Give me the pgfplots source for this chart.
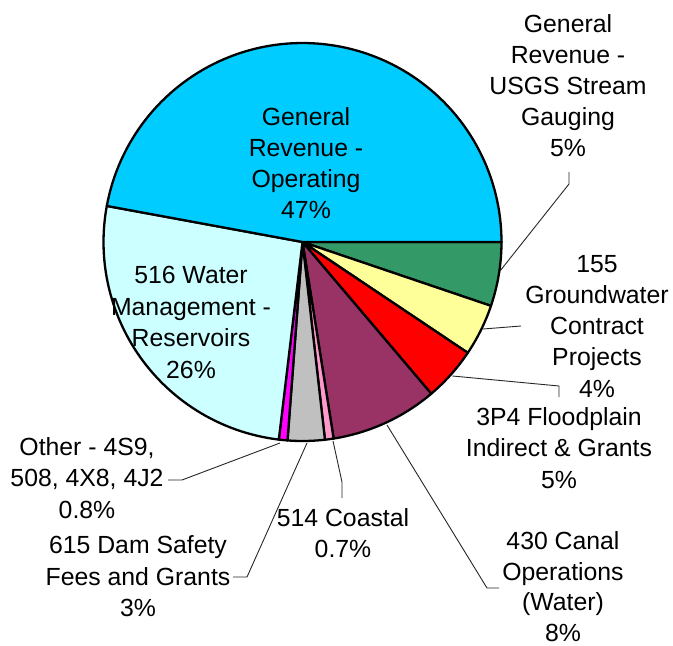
\documentclass[border=0pt]{standalone}
\usepackage{pgfplots}
\usepackage{pgfplotstable}
\pgfplotsset{compat=1.18}
\usepackage{fontspec}
\setmainfont{Liberation Sans}

\definecolor{cCyan}{HTML}{00CCFF}
\definecolor{cLCyan}{HTML}{CCFFFF}
\definecolor{cGreen}{HTML}{339966}
\definecolor{cYellow}{HTML}{FFFF99}
\definecolor{cRed}{HTML}{FF0000}
\definecolor{cPurple}{HTML}{993366}
\definecolor{cPink}{HTML}{FF99CC}
\definecolor{cGray}{HTML}{C0C0C0}
\definecolor{cMagenta}{HTML}{FF00FF}

\tikzset{
  lbl/.style={anchor=base, inner sep=0pt, font=\fontsize{24.8}{30}\selectfont},
  ldr/.style={draw=black!85, line width=0.9pt}}

% shares in percent, clockwise from 3 o'clock
\pgfplotstableread{
name v
USGS 5.2
Groundwater 4.2
Floodplain 4.4
Canal 8.7
Coastal 0.7
DamSafety 3.0
Other 0.7
Reservoirs 26.0
Operating 47.1
}\piedata

\def\cumv{0}
\newcommand\getangle[2]{%
  \pgfplotstablegetelem{#1}{v}\of\piedata
  \pgfmathsetmacro\cumv{\cumv+\pgfplotsretval*3.6}%
  \global\let#2\cumv}
\getangle{0}\aA
\getangle{1}\aB
\getangle{2}\aC
\getangle{3}\aD
\getangle{4}\aE
\getangle{5}\aF
\getangle{6}\aG
\getangle{7}\aH
\getangle{8}\aI

\def\cx{302.5}
\def\cy{242}
\def\rr{199}

\begin{document}
\begin{tikzpicture}
\useasboundingbox (0,0) rectangle (673pt,646pt);
\begin{axis}[at={(0,0)}, anchor=south west, scale only axis,
  width=673pt, height=646pt, xmin=0, xmax=673, ymin=0, ymax=646,
  y dir=reverse, hide axis, clip=false,
  every axis plot/.append style={draw=black, line width=2.3pt, line join=round, mark=none, variable=\t}]
\addplot[fill=cGreen, domain=0:\aA, samples=20] ({\cx+\rr*cos(\t)},{\cy+\rr*sin(\t)}) -- (axis cs:\cx,\cy) -- cycle;
\addplot[fill=cYellow, domain=\aA:\aB, samples=20] ({\cx+\rr*cos(\t)},{\cy+\rr*sin(\t)}) -- (axis cs:\cx,\cy) -- cycle;
\addplot[fill=cRed, domain=\aB:\aC, samples=20] ({\cx+\rr*cos(\t)},{\cy+\rr*sin(\t)}) -- (axis cs:\cx,\cy) -- cycle;
\addplot[fill=cPurple, domain=\aC:\aD, samples=30] ({\cx+\rr*cos(\t)},{\cy+\rr*sin(\t)}) -- (axis cs:\cx,\cy) -- cycle;
\addplot[fill=cPink, domain=\aD:\aE, samples=5] ({\cx+\rr*cos(\t)},{\cy+\rr*sin(\t)}) -- (axis cs:\cx,\cy) -- cycle;
\addplot[fill=cGray, domain=\aE:\aF, samples=10] ({\cx+\rr*cos(\t)},{\cy+\rr*sin(\t)}) -- (axis cs:\cx,\cy) -- cycle;
\addplot[fill=cMagenta, domain=\aF:\aG, samples=5] ({\cx+\rr*cos(\t)},{\cy+\rr*sin(\t)}) -- (axis cs:\cx,\cy) -- cycle;
\addplot[fill=cLCyan, domain=\aG:\aH, samples=60] ({\cx+\rr*cos(\t)},{\cy+\rr*sin(\t)}) -- (axis cs:\cx,\cy) -- cycle;
\addplot[fill=cCyan, domain=\aH:\aI, samples=100] ({\cx+\rr*cos(\t)},{\cy+\rr*sin(\t)}) -- (axis cs:\cx,\cy) -- cycle;

% leader lines
\draw[ldr] (axis cs:569,172) -- (axis cs:569,184) -- (axis cs:500,271);
\draw[ldr] (axis cs:483,329) -- (axis cs:521,326);
\draw[ldr] (axis cs:452.5,376) -- (axis cs:559,386) -- (axis cs:559,397);
\draw[ldr] (axis cs:387,425) -- (axis cs:487,588) -- (axis cs:499,588);
\draw[ldr] (axis cs:333,441) -- (axis cs:342,482) -- (axis cs:342,498);
\draw[ldr] (axis cs:168,480) -- (axis cs:182,480) -- (axis cs:280,443);
\draw[ldr] (axis cs:233,577) -- (axis cs:247,577) -- (axis cs:307,443);

% labels
\node[lbl] at (axis cs:306,125) {General};
\node[lbl] at (axis cs:306,156) {Revenue -};
\node[lbl] at (axis cs:306,187) {Operating};
\node[lbl] at (axis cs:306,218) {47\%};

\node[lbl] at (axis cs:568,32) {General};
\node[lbl] at (axis cs:568,63.2) {Revenue -};
\node[lbl] at (axis cs:568,94.4) {USGS Stream};
\node[lbl] at (axis cs:568,125.6) {Gauging};
\node[lbl] at (axis cs:568,156.8) {5\%};

\node[lbl] at (axis cs:597,272.3) {155};
\node[lbl] at (axis cs:597,303.5) {Groundwater};
\node[lbl] at (axis cs:597,334.7) {Contract};
\node[lbl] at (axis cs:597,365.9) {Projects};
\node[lbl] at (axis cs:597,397) {4\%};

\node[lbl] at (axis cs:559,425) {3P4 Floodplain};
\node[lbl] at (axis cs:559,456.7) {Indirect \& Grants};
\node[lbl] at (axis cs:559,488.3) {5\%};

\node[lbl] at (axis cs:563,549) {430 Canal};
\node[lbl] at (axis cs:563,580) {Operations};
\node[lbl] at (axis cs:563,610.8) {(Water)};
\node[lbl] at (axis cs:563,641.7) {8\%};

\node[lbl] at (axis cs:343,526) {514 Coastal};
\node[lbl] at (axis cs:343,557.3) {0.7\%};

\node[lbl] at (axis cs:87,455) {Other - 4S9,};
\node[lbl] at (axis cs:87,486.7) {508, 4X8, 4J2};
\node[lbl] at (axis cs:87,518.3) {0.8\%};

\node[lbl] at (axis cs:138,553.3) {615 Dam Safety};
\node[lbl] at (axis cs:138,585) {Fees and Grants};
\node[lbl] at (axis cs:138,616.7) {3\%};

\node[lbl] at (axis cs:191,283.5) {516 Water};
\node[lbl] at (axis cs:191,315) {Management -};
\node[lbl] at (axis cs:191,346.5) {Reservoirs};
\node[lbl] at (axis cs:191,378) {26\%};
\end{axis}
\end{tikzpicture}
\end{document}
